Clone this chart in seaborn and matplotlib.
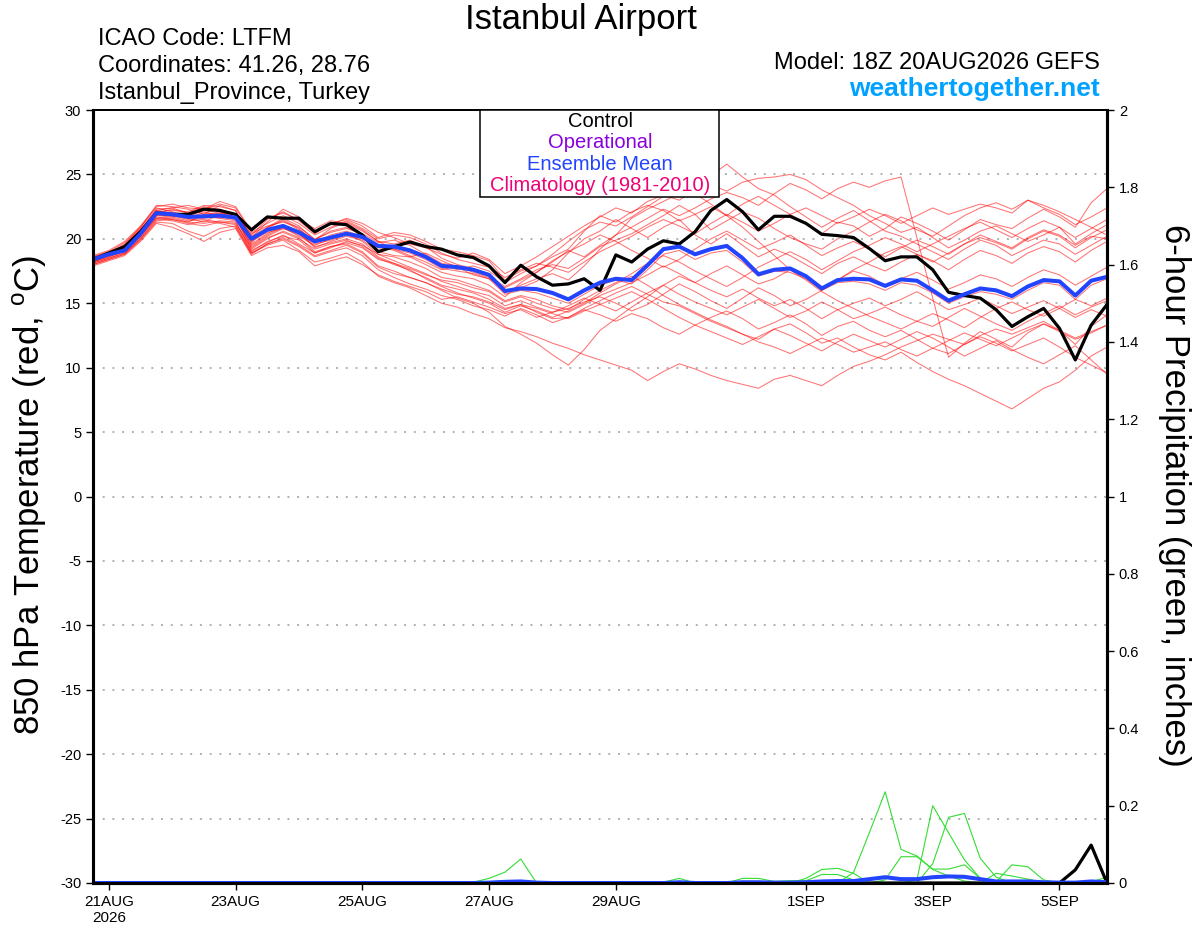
import numpy as np
import pandas as pd
import matplotlib
matplotlib.use('Agg')
import matplotlib.pyplot as plt
import seaborn as sns
from matplotlib.patches import Rectangle

sns.set_style('ticks')
plt.rcParams['font.family'] = ['Liberation Sans', 'DejaVu Sans']
plt.rcParams['mathtext.fontset'] = 'custom'
plt.rcParams['mathtext.rm'] = 'Liberation Sans'
plt.rcParams['text.color'] = 'black'

# GEFS 18Z 20AUG2026 run, 6-hourly valid times out to 384 h
times = pd.date_range('2026-08-20 18:00', periods=65, freq='6h')

tick_times = pd.to_datetime(['2026-08-21', '2026-08-23', '2026-08-25', '2026-08-27',
                             '2026-08-29', '2026-09-01', '2026-09-03', '2026-09-05'])
tick_labels = ['21AUG\n2026', '23AUG', '25AUG', '27AUG', '29AUG', '1SEP', '3SEP', '5SEP']
temp_ticks = list(range(-30, 31, 5))
precip_ticks = [0, 0.2, 0.4, 0.6, 0.8, 1, 1.2, 1.4, 1.6, 1.8, 2]

# 850 hPa temperature (C)
control_t = [18.4, 18.9, 19.4, 20.55, 22.0, 21.9, 21.9, 22.3, 22.2, 21.9,
             20.7, 21.7, 21.6, 21.6, 20.55, 21.2, 21.1, 20.3, 19.0, 19.4,
             19.75, 19.4, 19.2, 18.75, 18.55, 17.9, 16.6, 17.95, 17.05, 16.4,
             16.5, 16.9, 16.0, 18.75, 18.2, 19.2, 19.85, 19.6, 20.55, 22.2,
             23.05, 22.1, 20.7, 21.75, 21.75, 21.2, 20.35, 20.25, 20.1, 19.25,
             18.3, 18.6, 18.6, 17.6, 15.85, 15.6, 15.4, 14.5, 13.2, 13.95,
             14.6, 13.05, 10.6, 13.3, 14.9]

mean_t = [18.4, 18.8, 19.1, 20.4, 22.0, 21.9, 21.7, 21.75, 21.8, 21.65,
          20.0, 20.7, 21.0, 20.5, 19.8, 20.1, 20.4, 20.15, 19.45, 19.4,
          19.1, 18.6, 17.9, 17.8, 17.6, 17.2, 15.95, 16.15, 16.1, 15.8,
          15.3, 16.0, 16.6, 16.9, 16.8, 17.95, 19.2, 19.4, 18.8, 19.2,
          19.45, 18.5, 17.25, 17.6, 17.7, 17.1, 16.15, 16.8, 16.9, 16.85,
          16.35, 16.85, 16.75, 16.0, 15.2, 15.7, 16.15, 16.0, 15.55, 16.3,
          16.8, 16.7, 15.6, 16.75, 17.05]

m01 = [18.2, 18.7, 19.3, 20.6, 22.3, 22.4, 22.0, 22.5, 22.3, 21.9,
       20.3, 21.5, 22.1, 21.4, 20.4, 21.2, 21.5, 21.0, 20.1, 20.5,
       20.3, 19.8, 19.2, 19.0, 18.7, 18.3, 16.8, 17.5, 17.9, 18.6,
       19.2, 20.6, 21.8, 21.3, 22.1, 22.6, 22.2, 21.4, 21.9, 22.5,
       21.8, 22.7, 23.3, 22.6, 21.9, 21.2, 20.4, 21.3, 21.0, 20.2,
       20.8, 21.7, 21.2, 20.6, 19.9, 20.7, 21.5, 21.1, 20.8, 21.6,
       22.3, 21.7, 20.9, 22.8, 23.9]
m02 = [18.5, 18.9, 19.6, 20.9, 22.6, 22.5, 22.3, 21.9, 22.6, 22.2,
       19.7, 20.9, 21.6, 21.0, 19.9, 20.8, 21.3, 20.7, 19.8, 19.2,
       18.7, 18.2, 17.6, 17.9, 17.4, 17.0, 15.8, 16.4, 16.9, 17.3,
       16.8, 17.9, 19.2, 20.3, 21.6, 22.3, 22.9, 23.5, 24.2, 24.9,
       25.8, 24.8, 23.9, 23.4, 22.5, 21.7, 20.9, 21.6, 22.2, 21.4,
       20.6, 20.2, 19.6, 19.0, 18.4, 19.2, 19.9, 19.5, 18.7, 19.3,
       19.9, 19.6, 18.8, 19.5, 20.2]
m03 = [18.3, 18.8, 19.1, 20.2, 21.8, 21.7, 21.9, 22.1, 21.8, 21.6,
       19.4, 20.2, 20.8, 20.5, 19.3, 19.8, 20.2, 19.9, 19.0, 18.7,
       18.6, 18.9, 18.3, 17.8, 17.2, 16.9, 16.2, 16.8, 17.4, 18.2,
       19.1, 18.6, 19.5, 20.3, 20.9, 21.6, 22.3, 21.8, 22.4, 23.1,
       23.6, 23.2, 22.6, 23.5, 24.3, 23.8, 23.1, 23.9, 24.4, 24.0,
       24.5, 24.8, 20.1, 15.4, 10.8, 11.9, 12.8, 12.2, 11.6, 12.7,
       13.4, 12.9, 11.8, 13.2, 14.1]
m04 = [18.1, 18.5, 18.9, 20.0, 21.5, 21.6, 21.3, 21.2, 21.4, 21.3,
       19.0, 19.8, 20.2, 19.9, 18.9, 19.4, 19.7, 19.3, 18.4, 18.1,
       17.5, 17.0, 16.4, 16.1, 15.8, 15.3, 14.6, 14.9, 14.3, 13.8,
       13.9, 14.6, 15.2, 15.8, 16.3, 15.7, 15.1, 14.8, 14.2, 13.6,
       13.1, 12.6, 12.2, 13.0, 13.4, 12.7, 11.9, 12.3, 11.6, 11.0,
       10.6, 11.2, 10.4, 9.7, 9.1, 8.6, 8.0, 7.4, 6.8, 7.6,
       8.4, 8.9, 9.8, 10.9, 11.6]
m05 = [18.0, 18.4, 18.8, 19.9, 21.3, 21.2, 20.6, 20.2, 20.8, 21.0,
       18.9, 19.5, 19.9, 19.1, 18.2, 18.5, 18.9, 18.2, 17.1, 16.6,
       16.2, 15.6, 15.0, 14.7, 14.2, 13.8, 13.1, 12.8, 12.4, 11.9,
       11.5, 11.0, 10.6, 10.2, 9.8, 9.0, 9.7, 10.3, 9.9, 9.4,
       9.0, 8.7, 8.4, 9.1, 9.4, 9.0, 8.6, 9.4, 10.1, 10.5,
       11.0, 11.6, 12.1, 12.6, 12.2, 11.8, 12.5, 13.0, 12.6, 13.1,
       13.6, 12.9, 12.3, 12.8, 13.3]
m06 = [18.6, 19.0, 19.4, 20.5, 21.9, 22.0, 21.6, 21.8, 22.0, 21.7,
       19.2, 20.0, 20.6, 20.1, 19.0, 19.4, 19.6, 19.0, 17.9, 17.5,
       17.0, 16.6, 16.0, 15.4, 15.0, 14.3, 13.2, 12.6, 11.9, 11.0,
       10.2, 11.4, 12.9, 13.8, 14.7, 15.5, 16.4, 17.1, 16.6, 17.3,
       17.9, 17.2, 16.5, 16.9, 17.6, 17.0, 16.2, 16.8, 17.5, 17.1,
       16.4, 16.9, 17.4, 16.8, 16.1, 16.6, 17.2, 16.9, 16.3, 17.0,
       17.6, 17.2, 16.4, 17.1, 17.8]
m07 = [18.4, 18.8, 19.2, 20.6, 22.1, 22.2, 22.1, 22.6, 22.5, 22.2,
       20.1, 21.3, 22.3, 21.7, 20.6, 21.1, 21.6, 21.2, 20.5, 20.1,
       19.6, 19.3, 18.8, 18.5, 18.9, 18.4, 17.3, 17.9, 18.6, 19.4,
       20.2, 21.0, 21.7, 22.4, 22.0, 22.9, 23.4, 23.0, 23.8, 24.2,
       23.7, 24.4, 24.7, 24.8, 25.0, 24.6, 23.8, 23.2, 22.6, 21.8,
       21.2, 20.5, 20.9, 20.1, 19.3, 19.9, 20.6, 21.0, 20.4, 19.8,
       20.3, 20.9, 19.6, 20.4, 21.1]
m08 = [18.3, 18.7, 19.0, 20.3, 21.9, 21.8, 21.5, 21.6, 21.7, 21.5,
       19.8, 20.5, 20.8, 20.3, 19.6, 19.9, 20.3, 20.0, 19.3, 19.2,
       18.9, 18.4, 17.7, 17.5, 17.3, 16.9, 15.7, 16.0, 15.8, 15.4,
       15.0, 15.7, 16.4, 16.8, 16.5, 17.6, 18.8, 19.1, 18.4, 18.9,
       19.1, 18.2, 17.1, 17.5, 17.4, 16.9, 16.0, 16.6, 16.7, 16.5,
       16.0, 16.6, 16.4, 15.8, 15.0, 15.5, 15.9, 15.7, 15.3, 16.0,
       16.6, 16.4, 15.3, 16.4, 16.9]
m09 = [18.7, 19.1, 19.8, 21.0, 22.5, 22.7, 22.4, 22.3, 22.9, 22.5,
       20.6, 21.6, 22.0, 21.5, 20.8, 21.4, 21.2, 20.6, 19.8, 19.6,
       19.9, 19.4, 18.5, 18.0, 17.7, 17.1, 16.3, 16.9, 17.6, 18.0,
       17.7, 18.5, 19.4, 19.9, 20.4, 21.1, 21.8, 22.6, 21.9, 20.7,
       21.4, 22.1, 21.6, 20.8, 20.1, 19.6, 19.2, 20.0, 20.6, 21.3,
       21.9, 21.4, 20.7, 20.2, 21.0, 21.8, 22.4, 22.8, 22.3, 23.0,
       22.4, 21.9, 21.1, 21.7, 22.4]
m10 = [18.1, 18.5, 18.9, 20.1, 21.6, 21.4, 21.1, 21.4, 21.2, 20.9,
       18.8, 19.6, 20.0, 19.4, 18.6, 19.0, 19.3, 18.7, 17.6, 17.0,
       16.5, 16.1, 15.6, 15.3, 14.8, 14.5, 14.0, 14.6, 14.1, 13.5,
       13.9, 14.5, 14.1, 13.6, 14.2, 13.8, 13.1, 12.6, 13.3, 13.9,
       14.4, 13.8, 13.0, 13.5, 14.1, 13.4, 12.5, 13.2, 13.6, 12.9,
       12.4, 12.9, 12.2, 11.5, 11.1, 11.8, 12.4, 11.9, 11.3, 11.8,
       12.3, 11.6, 10.8, 10.2, 9.6]
m11 = [18.5, 18.9, 19.5, 20.8, 22.2, 22.0, 21.9, 21.7, 21.6, 21.8,
       20.4, 21.0, 21.3, 20.9, 20.0, 20.5, 20.8, 20.4, 19.7, 19.9,
       19.5, 18.8, 18.1, 17.9, 17.6, 17.1, 16.0, 16.2, 16.7, 17.6,
       18.9, 20.0, 20.6, 21.5, 20.8, 20.1, 20.9, 21.5, 20.3, 19.6,
       20.4, 19.5, 18.6, 19.2, 18.7, 18.0, 17.3, 18.1, 18.6, 18.0,
       17.5, 18.2, 18.8, 18.3, 17.6, 18.4, 19.1, 18.7, 18.1, 18.9,
       19.4, 19.0, 18.2, 19.1, 19.8]
m12 = [18.2, 18.6, 19.0, 20.2, 21.7, 21.5, 21.3, 21.9, 21.6, 21.4,
       19.1, 19.7, 20.3, 19.6, 18.9, 19.3, 19.8, 19.5, 18.8, 18.3,
       17.8, 17.3, 16.7, 16.3, 15.9, 15.6, 14.8, 15.2, 14.7, 14.3,
       14.6, 15.1, 15.5, 15.0, 14.4, 14.9, 15.7, 16.5, 15.9, 15.2,
       14.6, 15.4, 16.2, 15.6, 14.8, 15.3, 16.0, 16.8, 17.6, 18.2,
       18.9, 19.4, 18.8, 18.2, 18.9, 19.6, 20.1, 19.7, 19.2, 20.0,
       20.6, 20.2, 19.3, 20.1, 20.7]
m13 = [17.9, 18.3, 18.7, 19.8, 21.2, 20.9, 20.4, 19.8, 20.5, 20.8,
       18.7, 19.3, 19.5, 19.0, 17.9, 18.3, 18.6, 18.0, 17.2, 16.7,
       16.3, 15.9, 15.3, 15.5, 15.1, 14.7, 14.2, 14.5, 13.9, 14.3,
       14.8, 15.4, 14.9, 14.4, 15.1, 15.8, 16.4, 15.7, 15.1, 14.6,
       14.1, 14.7, 15.3, 14.6, 13.9, 14.4, 15.1, 14.5, 13.8, 14.2,
       14.7, 14.1, 13.6, 13.2, 13.9, 14.6, 14.0, 13.4, 12.9, 13.6,
       14.2, 14.8, 14.1, 14.7, 15.2]
m14 = [18.6, 19.0, 19.7, 20.9, 22.4, 22.1, 21.8, 22.2, 22.0, 21.9,
       20.2, 20.9, 21.4, 20.7, 19.9, 20.6, 20.9, 20.3, 19.4, 19.5,
       19.2, 18.7, 18.0, 17.6, 17.9, 17.5, 16.6, 17.3, 17.9, 18.8,
       19.8, 20.7, 21.3, 21.0, 21.7, 22.5, 23.3, 23.9, 23.5, 22.7,
       21.8, 20.9, 19.8, 18.7, 17.6, 16.8, 15.9, 15.2, 14.6, 14.0,
       13.5, 13.0, 13.6, 14.2, 13.7, 13.1, 13.9, 14.6, 15.1, 14.5,
       14.0, 14.6, 15.3, 14.8, 15.4]
m15 = [18.4, 18.8, 19.3, 20.4, 21.8, 21.9, 21.6, 21.3, 21.9, 21.6,
       19.6, 20.4, 21.0, 20.4, 19.4, 19.7, 20.0, 19.6, 18.6, 18.1,
       17.7, 17.2, 16.8, 16.6, 16.2, 15.9, 15.1, 15.5, 15.0, 14.6,
       14.3, 14.9, 15.6, 16.1, 16.6, 17.2, 17.9, 17.3, 16.6, 16.0,
       15.5, 16.1, 15.4, 14.8, 15.3, 14.6, 13.8, 14.5, 15.0, 15.4,
       14.8, 15.3, 15.9, 15.2, 14.5, 14.9, 15.4, 14.8, 14.2, 14.7,
       15.2, 14.6, 13.9, 14.5, 14.0]
m16 = [18.3, 18.9, 19.4, 20.7, 22.0, 22.3, 22.0, 22.4, 22.1, 21.7,
       20.0, 20.8, 21.5, 20.8, 19.7, 20.3, 20.6, 20.2, 19.4, 19.1,
       18.6, 18.0, 17.4, 17.1, 16.9, 16.4, 15.5, 16.6, 17.4, 18.3,
       19.0, 19.6, 20.3, 19.8, 19.1, 18.5, 17.8, 18.4, 19.2, 20.0,
       20.6, 19.9, 19.2, 19.7, 20.3, 19.5, 18.7, 19.3, 19.8, 19.2,
       18.6, 19.3, 19.9, 19.4, 18.8, 19.6, 20.3, 19.8, 19.3, 20.1,
       20.7, 20.3, 19.5, 20.2, 20.0]
m17 = [18.2, 18.6, 19.1, 20.3, 21.6, 21.7, 21.4, 21.5, 21.3, 21.2,
       19.3, 20.1, 20.5, 20.0, 19.2, 19.6, 19.9, 19.4, 18.5, 18.0,
       17.6, 16.9, 16.3, 15.8, 15.4, 15.0, 14.3, 14.8, 14.4, 13.9,
       14.4, 15.0, 15.8, 16.5, 17.1, 16.4, 15.6, 14.9, 14.3, 13.7,
       13.2, 12.6, 12.0, 11.6, 11.1, 11.7, 12.3, 11.8, 11.2, 11.6,
       12.0, 11.4, 10.9, 11.5, 12.1, 12.7, 12.2, 11.7, 12.3, 12.9,
       13.4, 12.8, 12.2, 12.7, 13.3]
m18 = [18.5, 18.9, 19.4, 20.6, 21.9, 21.8, 21.7, 22.0, 21.9, 21.6,
       19.5, 20.3, 20.9, 20.2, 19.5, 20.0, 20.4, 19.8, 18.8, 18.6,
       18.2, 17.7, 17.0, 16.8, 16.4, 16.0, 15.2, 15.6, 15.3, 14.8,
       14.5, 15.3, 16.0, 16.6, 17.3, 18.1, 18.7, 18.2, 17.5, 16.9,
       16.3, 17.0, 17.8, 18.4, 19.0, 18.4, 17.6, 18.3, 19.0, 19.5,
       20.1, 19.6, 19.0, 19.6, 20.2, 20.8, 21.3, 20.7, 20.1, 20.8,
       21.4, 20.9, 20.1, 20.8, 21.5]
m19 = [18.0, 18.4, 18.8, 20.0, 21.4, 21.5, 21.2, 21.0, 21.3, 21.1,
       18.9, 19.6, 20.1, 19.5, 18.7, 19.1, 19.5, 18.9, 17.8, 17.3,
       17.0, 16.6, 16.1, 15.7, 15.5, 15.1, 14.5, 14.9, 14.6, 14.2,
       13.8, 14.4, 14.9, 15.4, 15.9, 15.3, 14.6, 13.9, 13.3, 12.8,
       12.3, 11.8, 12.4, 13.0, 12.5, 11.9, 11.3, 12.0, 12.6, 12.1,
       11.6, 12.2, 12.8, 12.3, 11.6, 10.9, 11.5, 12.1, 11.4, 10.8,
       10.3, 11.0, 11.7, 10.6, 9.5]
m20 = [18.4, 18.8, 19.5, 20.7, 22.2, 22.4, 22.6, 22.3, 22.7, 22.4,
       20.5, 21.2, 21.8, 21.2, 20.3, 20.9, 21.4, 20.8, 20.0, 20.3,
       20.1, 19.6, 18.9, 18.4, 18.1, 17.8, 17.0, 17.6, 18.1, 17.8,
       17.4, 18.2, 19.0, 19.6, 20.2, 20.9, 21.5, 21.0, 20.4, 21.2,
       21.9, 21.3, 20.6, 21.2, 21.9, 22.4, 21.8, 21.2, 21.7, 22.3,
       21.8, 21.2, 21.8, 22.4, 21.9, 22.3, 22.7, 22.4, 22.0, 23.0,
       22.6, 22.1, 21.5, 20.9, 20.3]
members_t = [m01, m02, m03, m04, m05, m06, m07, m08, m09, m10,
             m11, m12, m13, m14, m15, m16, m17, m18, m19, m20]

# 6-hour precipitation (inches)
control_p = [0, 0, 0, 0, 0, 0, 0, 0, 0, 0,
             0, 0, 0, 0, 0, 0, 0, 0, 0, 0,
             0, 0, 0, 0, 0, 0, 0, 0, 0, 0,
             0, 0, 0, 0, 0, 0, 0, 0, 0, 0,
             0, 0, 0, 0, 0, 0, 0, 0, 0, 0,
             0, 0, 0, 0, 0, 0, 0, 0, 0, 0,
             0, 0, 0.034, 0.098, 0]
mean_p = [0, 0, 0, 0, 0, 0, 0, 0, 0, 0,
          0, 0, 0, 0, 0, 0, 0, 0, 0, 0,
          0, 0, 0, 0, 0, 0.001, 0.003, 0.004, 0.001, 0,
          0, 0, 0, 0, 0, 0, 0, 0.002, 0, 0,
          0, 0.002, 0.002, 0.001, 0.001, 0.002, 0.004, 0.005, 0.005, 0.01,
          0.015, 0.01, 0.01, 0.015, 0.017, 0.016, 0.01, 0.004, 0.004, 0.004,
          0.002, 0.001, 0.001, 0.004, 0.002]
p01 = [0, 0, 0, 0, 0, 0, 0, 0, 0, 0,
       0, 0, 0, 0, 0, 0, 0, 0, 0, 0,
       0, 0, 0, 0, 0.002, 0.012, 0.028, 0.062, 0, 0,
       0, 0, 0, 0, 0, 0, 0, 0, 0, 0,
       0, 0, 0, 0, 0, 0, 0, 0, 0, 0,
       0, 0, 0, 0, 0, 0, 0, 0, 0, 0,
       0, 0, 0, 0, 0]
p02 = [0, 0, 0, 0, 0, 0, 0, 0, 0, 0,
       0, 0, 0, 0, 0, 0, 0, 0, 0, 0,
       0, 0, 0, 0, 0, 0, 0, 0, 0, 0,
       0, 0, 0, 0, 0, 0, 0.002, 0.012, 0, 0,
       0, 0, 0, 0, 0, 0.012, 0.035, 0.038, 0.025, 0,
       0, 0, 0, 0, 0, 0, 0, 0, 0, 0,
       0, 0, 0, 0, 0]
p03 = [0, 0, 0, 0, 0, 0, 0, 0, 0, 0,
       0, 0, 0, 0, 0, 0, 0, 0, 0, 0,
       0, 0, 0, 0, 0, 0, 0, 0, 0, 0,
       0, 0, 0, 0, 0, 0, 0, 0, 0, 0,
       0, 0.012, 0.012, 0.004, 0.006, 0.006, 0.022, 0.022, 0.008, 0,
       0, 0, 0, 0, 0, 0, 0, 0, 0, 0,
       0, 0, 0, 0, 0]
p04 = [0, 0, 0, 0, 0, 0, 0, 0, 0, 0,
       0, 0, 0, 0, 0, 0, 0, 0, 0, 0,
       0, 0, 0, 0, 0, 0, 0, 0, 0, 0,
       0, 0, 0, 0, 0, 0, 0, 0, 0, 0,
       0, 0, 0, 0, 0, 0, 0, 0, 0.027, 0.13,
       0.236, 0.087, 0.07, 0.035, 0.018, 0.005, 0, 0, 0, 0,
       0, 0, 0, 0, 0]
p05 = [0, 0, 0, 0, 0, 0, 0, 0, 0, 0,
       0, 0, 0, 0, 0, 0, 0, 0, 0, 0,
       0, 0, 0, 0, 0, 0, 0, 0, 0, 0,
       0, 0, 0, 0, 0, 0, 0, 0, 0, 0,
       0, 0, 0, 0, 0, 0, 0, 0, 0, 0,
       0, 0, 0.008, 0.2, 0.13, 0.06, 0.012, 0, 0, 0,
       0, 0, 0, 0, 0]
p06 = [0, 0, 0, 0, 0, 0, 0, 0, 0, 0,
       0, 0, 0, 0, 0, 0, 0, 0, 0, 0,
       0, 0, 0, 0, 0, 0, 0, 0, 0, 0,
       0, 0, 0, 0, 0, 0, 0, 0, 0, 0,
       0, 0, 0, 0, 0, 0, 0, 0, 0, 0,
       0, 0, 0, 0.05, 0.17, 0.18, 0.064, 0.015, 0, 0,
       0, 0, 0, 0, 0]
p07 = [0, 0, 0, 0, 0, 0, 0, 0, 0, 0,
       0, 0, 0, 0, 0, 0, 0, 0, 0, 0,
       0, 0, 0, 0, 0, 0, 0, 0, 0, 0,
       0, 0, 0, 0, 0, 0, 0, 0, 0, 0,
       0, 0, 0, 0, 0, 0, 0, 0, 0, 0,
       0.008, 0.068, 0.068, 0.036, 0.036, 0.047, 0.012, 0.003, 0.047, 0.042,
       0.008, 0, 0, 0, 0]
p08 = [0, 0, 0, 0, 0, 0, 0, 0, 0, 0,
       0, 0, 0, 0, 0, 0, 0, 0, 0, 0,
       0, 0, 0, 0, 0, 0, 0, 0, 0, 0,
       0, 0, 0, 0, 0, 0, 0, 0, 0, 0,
       0, 0, 0, 0, 0, 0, 0, 0, 0, 0,
       0, 0, 0, 0, 0, 0, 0, 0.025, 0.018, 0.01,
       0.002, 0, 0, 0.003, 0.015]
members_p = [p01, p02, p03, p04, p05, p06, p07, p08]


def long_form(series_list, name):
    parts = [pd.DataFrame({'time': times, name: vals, 'member': k})
             for k, vals in enumerate(series_list)]
    return pd.concat(parts, ignore_index=True)


df_t = long_form(members_t, 't850')
df_p = long_form(members_p, 'precip')
df_det = pd.DataFrame({'time': times, 'control_t': control_t, 'mean_t': mean_t,
                       'control_p': control_p, 'mean_p': mean_p})

fig = plt.figure(figsize=(12, 9.27), dpi=100)
ax = fig.add_axes([93 / 1200, 1 - 883 / 927, 1014 / 1200, 773 / 927])
ax2 = ax.twinx()

# temperature plume
sns.lineplot(data=df_t, x='time', y='t850', units='member', estimator=None,
             color='red', alpha=0.55, lw=0.75, ax=ax, legend=False)
sns.lineplot(data=df_det, x='time', y='control_t', color='black', lw=2.3, ax=ax)
sns.lineplot(data=df_det, x='time', y='mean_t', color='#2244ff', lw=2.9, ax=ax)

# precipitation plume on right axis
sns.lineplot(data=df_p, x='time', y='precip', units='member', estimator=None,
             color='#33dd33', lw=0.8, ax=ax2, legend=False)
sns.lineplot(data=df_det, x='time', y='control_p', color='black', lw=2.3, ax=ax2)
sns.lineplot(data=df_det, x='time', y='mean_p', color='#2244ff', lw=2.9, ax=ax2)

ax.set_xlim(times[0], times[-1])
ax.set_ylim(-30, 30)
ax2.set_ylim(0, 2)
ax.set_yticks(temp_ticks)
ax.set_yticklabels([str(t) for t in temp_ticks])
ax2.set_yticks(precip_ticks)
ax2.set_yticklabels([f'{p:g}' for p in precip_ticks])
ax.set_xticks(tick_times)
ax.set_xticklabels(tick_labels)
for a in (ax, ax2):
    a.set_xlabel('')
    a.set_ylabel('')

for t in temp_ticks[1:-1]:
    ax.axhline(t, color='#b0b0b0', lw=1.4, ls=(0, (1, 4)), zorder=0)

ax.tick_params(axis='y', direction='out', length=5, width=1, colors='black', labelsize=10.5)
ax.tick_params(axis='x', direction='out', length=5, width=1, colors='black', labelsize=11)
ax2.tick_params(axis='y', direction='out', length=5, width=1, colors='black', labelsize=10.5)

for a in (ax, ax2):
    for side, sp in a.spines.items():
        sp.set_color('black')
        sp.set_visible(True)
        sp.set_linewidth(1.4 if side == 'top' else 2.2)

# legend box
ax2.add_patch(Rectangle((387 / 1014, 686 / 773), 239 / 1014, 87 / 773, transform=ax2.transAxes,
                        facecolor='white', edgecolor='black', lw=1.1, zorder=10, clip_on=False))
legend_items = [('Control', 'black'), ('Operational', '#8800dd'),
                ('Ensemble Mean', '#2244ff'), ('Climatology (1981-2010)', '#ee0077')]
for k, (label, col) in enumerate(legend_items):
    ax2.text(0.5, (762 - 21.5 * k) / 773, label, color=col, fontsize=14.5,
             ha='center', va='center', transform=ax2.transAxes, zorder=11)

# header texts
fig.text(581 / 1200, 1 - 19 / 927, 'Istanbul Airport', ha='center', va='center', fontsize=25)
fig.text(98 / 1200, 1 - 39 / 927, 'ICAO Code: LTFM', ha='left', va='center', fontsize=17)
fig.text(98 / 1200, 1 - 66 / 927, 'Coordinates: 41.26, 28.76', ha='left', va='center', fontsize=17)
fig.text(98 / 1200, 1 - 93 / 927, 'Istanbul_Province, Turkey', ha='left', va='center', fontsize=17)
fig.text(1100 / 1200, 1 - 63 / 927, 'Model: 18Z 20AUG2026 GEFS', ha='right', va='center', fontsize=17)
fig.text(1100 / 1200, 1 - 89 / 927, 'weathertogether.net', ha='right', va='center',
         fontsize=19, fontweight='bold', color='#00a2ff')

fig.text(30 / 1200, 1 - 495 / 927, r'850 hPa Temperature (red, $^{\rm o}$C)', rotation=90,
         ha='center', va='center', fontsize=25)
fig.text(1175 / 1200, 1 - 495 / 927, '6-hour Precipitation (green, inches)', rotation=270,
         ha='center', va='center', fontsize=25)

fig.savefig('out.png', dpi=100)
